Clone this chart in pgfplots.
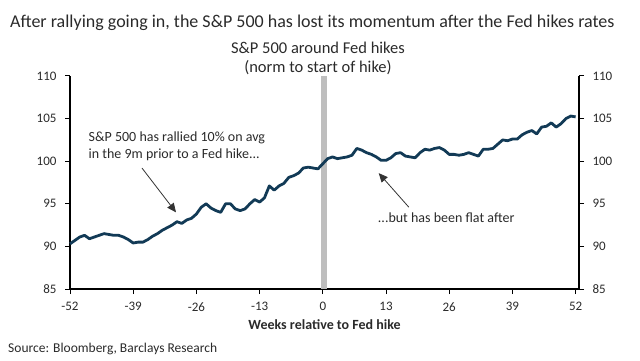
\documentclass[border=0pt]{standalone}
\usepackage{pgfplots}
\pgfplotsset{compat=1.18}
\usepackage{fontspec}
\setmainfont{Carlito}
\usetikzlibrary{arrows.meta}
\definecolor{navy}{HTML}{123A56}
\definecolor{bargray}{HTML}{BEBEBE}
\definecolor{txt}{HTML}{2A2A2A}
\pgfplotstableread{
x y
-52 90.3
-51 90.7
-50 91.1
-49 91.3
-48 90.9
-47 91.1
-46 91.3
-45 91.5
-44 91.4
-43 91.3
-42 91.3
-41 91.1
-40 90.8
-39 90.4
-38 90.5
-37 90.5
-36 90.8
-35 91.2
-34 91.5
-33 91.9
-32 92.2
-31 92.5
-30 92.9
-29 92.7
-28 93.1
-27 93.3
-26 93.8
-25 94.6
-24 95.0
-23 94.5
-22 94.2
-21 94.0
-20 95.0
-19 95.0
-18 94.4
-17 94.2
-16 94.4
-15 95.0
-14 95.5
-13 95.2
-12 95.7
-11 97.1
-10 96.6
-9 97.1
-8 97.4
-7 98.1
-6 98.3
-5 98.6
-4 99.2
-3 99.3
-2 99.2
-1 99.1
0 99.7
1 100.3
2 100.5
3 100.3
4 100.4
5 100.5
6 100.7
7 101.5
8 101.3
9 101.0
10 100.8
11 100.5
12 100.1
13 100.1
14 100.4
15 100.9
16 101.0
17 100.6
18 100.5
19 100.4
20 101.0
21 101.4
22 101.3
23 101.5
24 101.6
25 101.3
26 100.8
27 100.8
28 100.7
29 100.8
30 101.0
31 100.8
32 100.6
33 101.4
34 101.4
35 101.5
36 102.0
37 102.5
38 102.4
39 102.6
40 102.6
41 103.1
42 103.4
43 103.6
44 103.2
45 104.0
46 104.1
47 104.5
48 104.0
49 104.4
50 105.0
51 105.3
52 105.2
}\spx
\begin{document}
\begin{tikzpicture}[x=1bp,y=1bp]
\useasboundingbox (0,0) rectangle (640,360);
\pgfplotsset{
  common/.style={
    scale only axis, width=509bp, height=213bp,
    at={(70bp,71bp)}, anchor=south west,
    xmin=-52, xmax=52.7, ymin=85, ymax=110,
    ytick={85,90,...,110},
    xtick={-52,-39,...,52},
    tick align=outside, major tick length=5bp,
    axis line style={line width=1.2bp, black},
    every tick/.style={line width=1bp, black},
    /pgf/number format/assume math mode=true,
    ticklabel style={font=\fontsize{13bp}{15bp}\selectfont, text=txt},
    clip=false,
  }
}
\begin{axis}[common,
  axis x line*=bottom, axis y line*=left,
  xticklabel style={yshift=-5bp},
  yticklabel style={xshift=-5bp},
  xlabel={\textbf{Weeks relative to Fed hike}},
  xlabel style={font=\fontsize{14bp}{16bp}\selectfont, text=txt, yshift=-1bp},
]
\addplot[fill=bargray, draw=none] coordinates {(-0.3,85) (-0.3,110) (0.8,110) (0.8,85)} -- cycle;
\addplot[navy, line width=2.8bp, line join=round] table[x=x,y=y] {\spx};
\draw[-{Triangle[length=9bp,width=8bp]}, line width=0.8bp, black!80] (axis cs:-37.2,99.2) -- (axis cs:-30.2,94.0);
\draw[-{Triangle[length=9bp,width=8bp]}, line width=0.8bp, black!80] (axis cs:17.7,94.6) -- (axis cs:11.5,98.6);
\node[anchor=north west, align=left, text=txt, font=\fontsize{14bp}{17bp}\selectfont, inner sep=0pt] at (axis cs:-48.2,103.5) {S\&P 500 has rallied 10\% on avg\\in the 9m prior to a Fed hike...};
\node[anchor=west, text=txt, font=\fontsize{14bp}{16bp}\selectfont, inner sep=0pt] at (axis cs:11.3,93.4) {...but has been flat after};
\end{axis}
\begin{axis}[common,
  axis x line=none, axis y line*=right,
  yticklabel style={xshift=5bp},
]
\addplot[draw=none] coordinates {(0,100)};
\end{axis}
\node[anchor=base west, text=txt, inner sep=0pt, font=\fontsize{18bp}{20bp}\selectfont] at (10,333) {After rallying going in, the S\&P 500 has lost its momentum after the Fed hikes rates};
\node[anchor=base, text=txt, inner sep=0pt, font=\fontsize{16.5bp}{19bp}\selectfont] at (318,307) {S\&P 500 around Fed hikes};
\node[anchor=base, text=txt, inner sep=0pt, font=\fontsize{16.5bp}{19bp}\selectfont] at (318,288) {(norm to start of hike)};
\node[anchor=base west, text=txt, inner sep=0pt, font=\fontsize{13.5bp}{15bp}\selectfont] at (8,8) {Source: Bloomberg, Barclays Research};
\end{tikzpicture}
\end{document}
